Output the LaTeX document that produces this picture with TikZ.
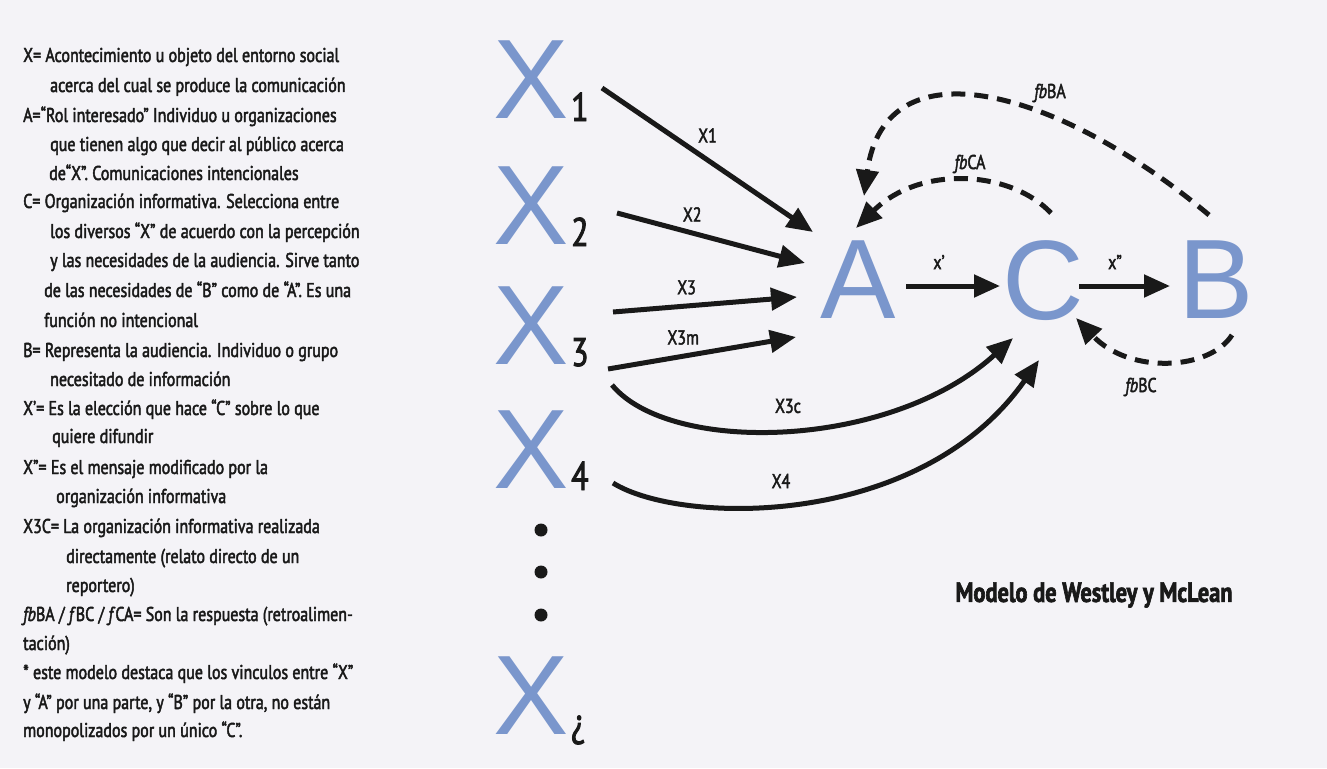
\documentclass[tikz,border=0pt]{standalone}
\usepackage{fontspec}
\setmainfont{PT Sans}
\newfontfamily\cond{PT Sans}[FakeStretch=0.8,FakeBold=2.2]
\newfontfamily\arialf{Liberation Sans}
\usetikzlibrary{arrows.meta}
\definecolor{bg}{RGB}{244,243,247}
\definecolor{letterblue}{RGB}{122,150,204}
\definecolor{ink}{RGB}{25,25,25}
\begin{document}
\begin{tikzpicture}[x=1pt,y=-1pt,
 big/.style={font=\arialf\fontsize{113}{113}\selectfont, text=letterblue, inner sep=0pt},
 sub/.style={font=\cond\fontsize{40}{40}\selectfont, text=ink, inner sep=0pt, anchor=base west},
 txt/.style={font=\cond\fontsize{20}{22}\selectfont, text=ink, inner sep=0pt, anchor=base west},
 lbl/.style={font=\cond\fontsize{20}{22}\selectfont, text=ink, inner sep=0pt},
 conn/.style={line width=5pt, draw=ink, -{Triangle[length=26pt,width=22pt]}},
 fbarrow/.style={conn, dash pattern=on 14pt off 9pt},
 blackdot/.style={circle, fill=ink, minimum size=13pt, inner sep=0pt},
 titlefont/.style={font=\cond\bfseries\fontsize{28}{30}\selectfont, text=ink, inner sep=0pt}]
\useasboundingbox (0,0) rectangle (1327,768);
\fill[bg] (0,0) rectangle (1327,768);

% ---- legend text ----
\node[txt] (t1)  at (23,62)  {X= Acontecimiento u objeto del entorno social};
\node[txt] (t2)  at (50,92)  {acerca del cual se produce la comunicación};
\node[txt] (t3)  at (23,122) {A=“Rol interesado” Individuo u organizaciones};
\node[txt] (t4)  at (50,151) {que tienen algo que decir al público acerca};
\node[txt] (t5)  at (49,180) {de“X”. Comunicaciones intencionales};
\node[txt] (t6)  at (23,208) {C= Organización informativa. Selecciona entre};
\node[txt] (t7)  at (50,238) {los diversos “X” de acuerdo con la percepción};
\node[txt] (t8)  at (50,267) {y las necesidades de la audiencia. Sirve tanto};
\node[txt] (t9)  at (44,297) {de las necesidades de “B” como de “A”. Es una};
\node[txt] (t10) at (44,327) {función no intencional};
\node[txt] (t11) at (23,357) {B= Representa la audiencia. Individuo o grupo};
\node[txt] (t12) at (50,386) {necesitado de información};
\node[txt] (t13) at (23,415) {X’= Es la elección que hace “C” sobre lo que};
\node[txt] (t14) at (52,443) {quiere difundir};
\node[txt] (t15) at (23,474) {X”= Es el mensaje modificado por la};
\node[txt] (t16) at (56,503) {organización informativa};
\node[txt] (t17) at (23,533) {X3C= La organización informativa realizada};
\node[txt] (t18) at (66,563) {directamente (relato directo de un};
\node[txt] (t19) at (66,592) {reportero)};
\node[txt] (t20) at (23,621) {\textit{fb}BA / \textit{f}BC / \textit{f}CA= Son la respuesta (retroalimen-};
\node[txt] (t21) at (23,650) {tación)};
\node[txt] (t22) at (23,679) {* este modelo destaca que los vinculos entre “X”};
\node[txt] (t23) at (23,709) {y “A” por una parte, y “B” por la otra, no están};
\node[txt] (t24) at (23,737) {monopolizados por un único “C”.};

% ---- X column ----
\node[big] (x1) at (531,80)  {X};
\node[sub] (s1) at (571,121) {1};
\node[big] (x2) at (531,206) {X};
\node[sub] (s2) at (571,246) {2};
\node[big] (x3) at (531,326) {X};
\node[sub] (s3) at (571,366) {3};
\node[big] (x4) at (531,450) {X};
\node[sub] (s4) at (571,490) {4};
\node[blackdot] (d1) at (541,530) {};
\node[blackdot] (d2) at (541,572) {};
\node[blackdot] (d3) at (541,615) {};
\node[big] (xj) at (531,696) {X};
\node[sub] (sj) at (571,736) {¿};

% ---- A C B ----
\node[big] (A) at (858,280) {A};
\node[big] (C) at (1043,281) {C};
\node[big] (B) at (1216,280) {B};

% ---- connectors X -> A ----
\draw[conn] ([shift={(71,8)}]x1.center) -- ([shift={(-45,-48)}]A.center)
  node[lbl, pos=0.5, above=15pt] (l1) {X1};
\draw[conn] ([shift={(86,7)}]x2.center) -- ([shift={(-53,-17)}]A.center)
  node[lbl, pos=0.4, above=9pt] (l2) {X2};
\draw[conn] ([shift={(82,-14)}]x3.center) -- ([shift={(-61,17)}]A.center)
  node[lbl, pos=0.4, above=9pt] (l3) {X3};
\draw[conn] ([shift={(77,43)}]x3.center) -- ([shift={(-62,57)}]A.center)
  node[lbl, pos=0.4, above=9pt] (l3m) {X3m};

% ---- connectors X -> C ----
\draw[conn] ([shift={(81,59)}]x3.center) .. controls (670,455) and (890,450) .. ([shift={(-30,57)}]C.center);
\node[lbl] (l3c) at (788,406) {X3c};
\draw[conn] ([shift={(82,33)}]x4.center) .. controls (680,525) and (920,530) .. ([shift={(-4,79)}]C.center);
\node[lbl] (l4) at (781,481) {X4};

% ---- A -> C -> B ----
\draw[conn] ([shift={(48,6)}]A.center) -- ([shift={(-43,5)}]C.center);
\node[lbl] (lxp) at (939,262) {x’};
\draw[conn] ([shift={(36,5)}]C.center) -- ([shift={(-46,6)}]B.center);
\node[lbl] (lxpp) at (1115,262) {x”};

% ---- feedback ----
\draw[fbarrow] ([shift={(-7,-65)}]B.center) .. controls (1060,90) and (885,40) .. ([shift={(6,-84)}]A.center);
\node[lbl] (lba) at (1050,93) {\textit{fb}BA};
\draw[fbarrow] ([shift={(8,-68)}]C.center) .. controls (1010,170) and (920,165) .. ([shift={(-2,-52)}]A.center);
\node[lbl] (lca) at (970,164) {\textit{fb}CA};
\draw[fbarrow] ([shift={(16,55)}]B.center) .. controls (1210,370) and (1130,375) .. ([shift={(33,37)}]C.center);
\node[lbl] (lbc) at (1141,387) {\textit{fb}BC};

% ---- title ----
\node[titlefont] (title) at (1094,595) {Modelo de Westley y McLean};
\end{tikzpicture}
\end{document}
